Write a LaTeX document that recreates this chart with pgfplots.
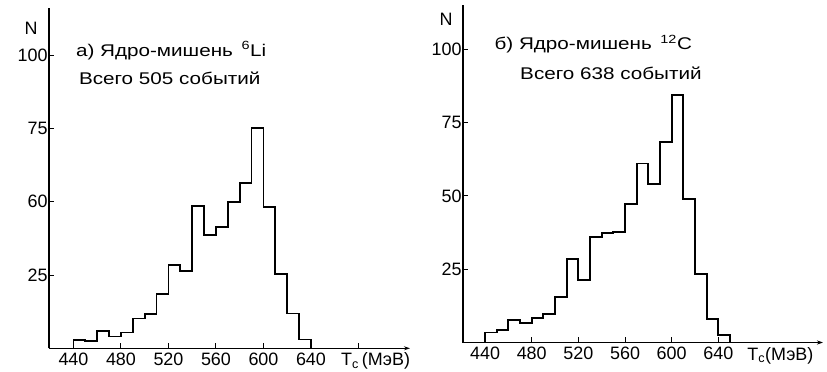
\documentclass[border=0pt]{standalone}
\usepackage{fontspec}
\setmainfont{Liberation Sans}
\newfontfamily\annfont[FakeStretch=1.22]{Liberation Sans}
\usepackage{pgfplots}
\pgfplotsset{compat=1.18}
\usetikzlibrary{arrows.meta}
\tikzset{
  histline/.style={const plot, black, line width=1.8bp, mark=none},
  ann/.style={anchor=west,font=\annfont\fontsize{17}{17}\selectfont,inner sep=0pt},
  lab/.style={font=\fontsize{18}{18}\selectfont},
}
\begin{document}
\begin{tikzpicture}
\useasboundingbox (0bp,0bp) rectangle (827bp,372bp);
\pgfplotsset{
  hist/.style={
    scale only axis,
    axis x line=bottom, axis y line=left,
    x axis line style={line width=1.3bp,-{Stealth[length=6bp,width=4bp]}},
    y axis line style={line width=1.3bp,-},
    tick style={black,line width=1bp},
    major tick length=5bp,
    tick align=inside,
    ytick={25,50,75,100},
    /pgf/number format/assume math mode=true,
    tick label style={font=\fontsize{18}{18}\selectfont},
    xticklabel style={yshift=-1bp},
    yticklabel style={xshift=2bp},
    clip=false,
    ymin=0,
  },
}
% Left panel
\begin{axis}[hist,
  at={(49bp,23.7bp)}, anchor=south west,
  width=361bp, height=340bp,
  xmin=419.4, xmax=723.4, ymax=116,
  xtick={440,480,520,560,600,640,680},
  xticklabels={440,480,520,560,600,640,{}},
  yticklabels={25,60,75,100}]
\addplot[histline] coordinates {
(440,0) (440,2.8) (450,2.5) (460,6) (470,4) (480,5.4) (490,10.2) (500,11.7)
(510,18.5) (520,28.4) (530,26.5) (540,48.5) (550,38.6) (560,41.5) (570,49.8)
(580,56.5) (590,75.2) (600,48.3) (610,25.3) (620,11.9) (630,3) (640,0)
};
\node[ann] at (axis cs:442,101.6) {а) Ядро-мишень \,\textsuperscript{6}Li};
\node[ann] at (axis cs:444.5,92) {Всего 505 событий};
\node[lab,inner sep=0pt] at ([xshift=-18bp]rel axis cs:0,0.94) {N};
\node[lab,anchor=north west] at ([xshift=-3bp,yshift=-1bp]axis cs:665,0) {T\textsubscript{c}\,(МэВ)};
\end{axis}
% Right panel
\begin{axis}[hist,
  at={(463bp,29.5bp)}, anchor=south west,
  width=360bp, height=337bp,
  xmin=421.1, xmax=729.7, ymax=115,
  xtick={440,480,520,560,600,640},
  yticklabels={25,50,75,100}]
\addplot[histline] coordinates {
(440,0) (440,3.4) (450,4.3) (460,7.6) (470,6.6) (480,8.3) (490,9.7) (500,15.4)
(510,28.4) (520,21.3) (530,36.1) (540,37.5) (550,37.8) (560,47.2) (570,61.1)
(580,54) (590,68.4) (600,84.4) (610,49.1) (620,23.5) (630,8) (640,2.6) (650,0)
};
\node[ann] at (axis cs:448,101.7) {б) Ядро-мишень \,\textsuperscript{12}C};
\node[ann] at (axis cs:470,92) {Всего 638 событий};
\node[lab,inner sep=0pt] at ([xshift=-17bp]rel axis cs:0,0.96) {N};
\node[lab,anchor=north west] at ([xshift=-3bp,yshift=-1bp]axis cs:664.5,0) {T\textsubscript{c}(МэВ)};
\end{axis}
\end{tikzpicture}
\end{document}
